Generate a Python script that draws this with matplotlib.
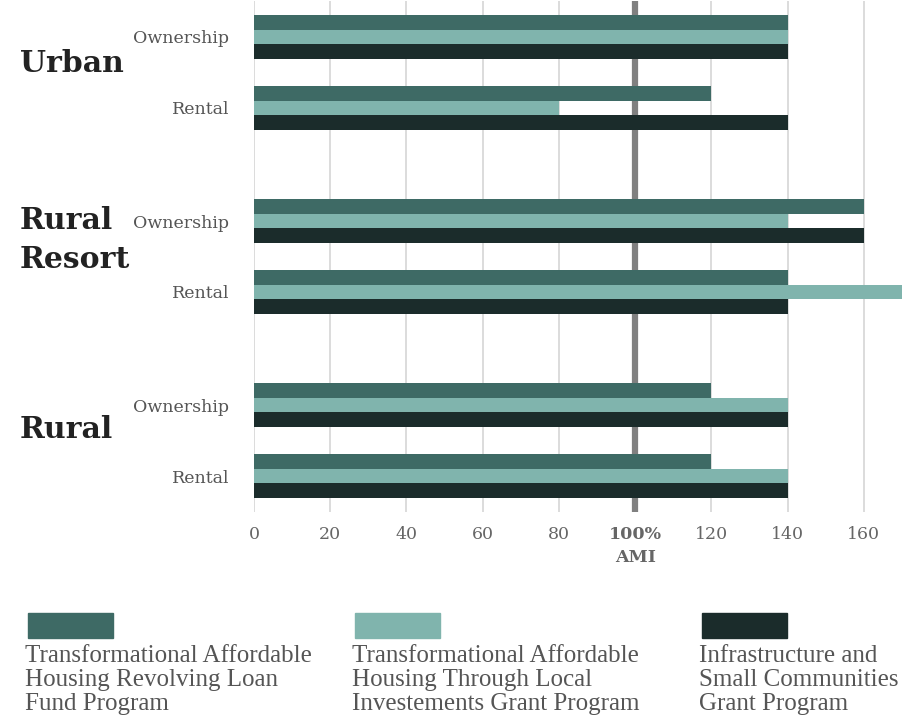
import matplotlib
matplotlib.use("Agg")
import matplotlib.pyplot as plt
from matplotlib.patches import Rectangle

groups = ["Urban", "Rural\nResort", "Rural"]
subcats = ["Ownership", "Rental"]
series_names = [
    "Transformational Affordable\nHousing Revolving Loan\nFund Program",
    "Transformational Affordable\nHousing Through Local\nInvestements Grant Program",
    "Infrastructure and\nSmall Communities\nGrant Program",
]
colors = ["#3e6a65", "#80b4ad", "#1b2c2b"]
# values per row: Urban Own, Urban Rent, RR Own, RR Rent, Rural Own, Rural Rent
loan = [140, 120, 160, 140, 120, 120]
local = [140, 80, 140, 170, 140, 140]
infra = [140, 140, 160, 140, 140, 140]
series = [loan, local, infra]
xticks = [0, 20, 40, 60, 80, 100, 120, 140, 160]

fig = plt.figure(figsize=(9.23, 7.18), dpi=100)
ax = fig.add_axes([254/923, 1-512/718, (902-254)/923, (512-1)/718])

group_gap = 2.556
rows = []
for g in range(3):
    base = g * group_gap
    rows += [base, base + 0.986]
bh = 0.204
for si, vals in enumerate(series):
    ys = [r + (si - 1) * bh for r in rows]
    ax.barh(ys, vals, height=bh, color=colors[si], zorder=3)

ax.set_xlim(0, 170)
ax.set_ylim(rows[-1] + 0.5, rows[0] - 0.5)
for x in xticks:
    if x == 100:
        ax.axvline(x, color="#808080", lw=4.5, zorder=2)
    else:
        ax.axvline(x, color="#d6d6d6", lw=1.2, zorder=1)
for s in ax.spines.values():
    s.set_visible(False)
ax.set_yticks(rows)
ax.set_yticklabels(subcats * 3, fontsize=12.5, color="#555555", family="DejaVu Serif")
ax.tick_params(axis="y", length=0, pad=18)
ax.set_xticks(xticks)
labels = ax.set_xticklabels([("100%" if x == 100 else str(x)) for x in xticks],
                            fontsize=12.5, color="#666666", family="DejaVu Serif")
for t, x in zip(labels, xticks):
    if x == 100:
        t.set_fontweight("bold")
ax.tick_params(axis="x", length=0, pad=10)
ax.text(100, -0.072, "AMI", transform=ax.get_xaxis_transform(), ha="center", va="top",
        fontsize=12.5, fontweight="bold", color="#666666", family="DejaVu Serif")

# group labels
group_y = [64, 240, 430]
for name, yp in zip(groups, group_y):
    fig.text(20/923, 1-yp/718, name, fontsize=21.5, fontweight="bold", color="#222222",
             family="DejaVu Serif", va="center", ha="left", linespacing=1.45)

# legend
leg_x = [28, 355, 702]
for c, name, lx in zip(colors, series_names, leg_x):
    fig.add_artist(Rectangle((lx/923, 1-638/718), 85/923, 25/718, color=c,
                             transform=fig.transFigure))
    fig.text((lx-3)/923, 1-645/718, name, fontsize=18, color="#555555",
             family="Liberation Serif", va="top", ha="left", linespacing=1.13)

fig.savefig("out.png", dpi=100)
